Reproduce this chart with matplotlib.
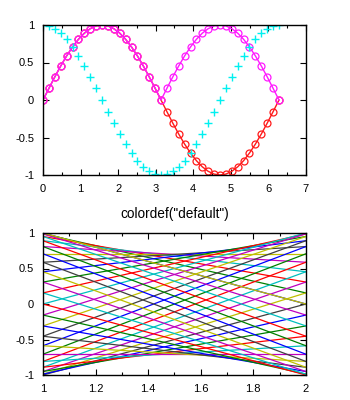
import matplotlib
matplotlib.use("Agg")
import matplotlib.pyplot as plt
from matplotlib.ticker import MultipleLocator

# 41 samples over one period
x_vals = [0.000, 0.157, 0.314, 0.471, 0.628, 0.785, 0.942, 1.100, 1.257, 1.414,
          1.571, 1.728, 1.885, 2.042, 2.199, 2.356, 2.513, 2.670, 2.827, 2.985,
          3.142, 3.299, 3.456, 3.613, 3.770, 3.927, 4.084, 4.241, 4.398, 4.555,
          4.712, 4.869, 5.027, 5.184, 5.341, 5.498, 5.655, 5.812, 5.969, 6.126,
          6.283]

sin_vals = [0.000, 0.156, 0.309, 0.454, 0.588, 0.707, 0.809, 0.891, 0.951, 0.988,
            1.000, 0.988, 0.951, 0.891, 0.809, 0.707, 0.588, 0.454, 0.309, 0.156,
            0.000, -0.156, -0.309, -0.454, -0.588, -0.707, -0.809, -0.891, -0.951, -0.988,
            -1.000, -0.988, -0.951, -0.891, -0.809, -0.707, -0.588, -0.454, -0.309, -0.156,
            0.000]

abs_sin_vals = [0.000, 0.156, 0.309, 0.454, 0.588, 0.707, 0.809, 0.891, 0.951, 0.988,
                1.000, 0.988, 0.951, 0.891, 0.809, 0.707, 0.588, 0.454, 0.309, 0.156,
                0.000, 0.156, 0.309, 0.454, 0.588, 0.707, 0.809, 0.891, 0.951, 0.988,
                1.000, 0.988, 0.951, 0.891, 0.809, 0.707, 0.588, 0.454, 0.309, 0.156,
                0.000]

cos_vals = [1.000, 0.988, 0.951, 0.891, 0.809, 0.707, 0.588, 0.454, 0.309, 0.156,
            0.000, -0.156, -0.309, -0.454, -0.588, -0.707, -0.809, -0.891, -0.951, -0.988,
            -1.000, -0.988, -0.951, -0.891, -0.809, -0.707, -0.588, -0.454, -0.309, -0.156,
            0.000, 0.156, 0.309, 0.454, 0.588, 0.707, 0.809, 0.891, 0.951, 0.988,
            1.000]

# each bottom line runs from (1, cos) to (2, sin)
line_x = [1, 2]

old_order = [(0, 0, 1), (0, 0.5, 0), (1, 0, 0), (0, 0.75, 0.75),
             (0.75, 0, 0.75), (0.75, 0.75, 0), (0.25, 0.25, 0.25)]

plt.rcParams['font.family'] = ['Liberation Sans', 'DejaVu Sans']
plt.rcParams['font.size'] = 8
plt.rcParams['axes.prop_cycle'] = plt.cycler(color=old_order)

fig = plt.figure(figsize=(3.5, 4), dpi=100)

ax1 = fig.add_axes([0.123, 0.5625, 0.751, 0.375])
ax1.plot(x_vals, sin_vals, 'o-', color='#ff1a1a', mfc='none', ms=5, lw=1, mew=0.9)
ax1.plot(x_vals, abs_sin_vals, 'o-', color='#ff1aff', mfc='none', ms=5, lw=1, mew=0.9)
ax1.plot(x_vals, cos_vals, '+', color='#00f0f0', ms=6, mew=1)
ax1.set_xlim(0, 7)
ax1.set_ylim(-1, 1)
ax1.xaxis.set_major_locator(MultipleLocator(1))
ax1.xaxis.set_minor_locator(MultipleLocator(0.5))
ax1.set_yticks([-1, -0.5, 0, 0.5, 1])
ax1.set_yticklabels(['-1', '-0.5', '0', '0.5', '1'])

ax2 = fig.add_axes([0.123, 0.0625, 0.751, 0.355])
for a, b in zip(cos_vals, sin_vals):
    ax2.plot(line_x, [a, b], lw=0.9)
ax2.set_xlim(1, 2)
ax2.set_ylim(-1, 1)
ax2.set_xticks([1, 1.2, 1.4, 1.6, 1.8, 2])
ax2.set_xticklabels(['1', '1.2', '1.4', '1.6', '1.8', '2'])
ax2.xaxis.set_minor_locator(MultipleLocator(0.1))
ax2.set_yticks([-1, -0.5, 0, 0.5, 1])
ax2.set_yticklabels(['-1', '-0.5', '0', '0.5', '1'])
fig.text(0.4985, 0.465, 'colordef("default")', ha='center', va='center', fontsize=9.8)

for ax in (ax1, ax2):
    ax.tick_params(which='both', direction='in', top=True, right=True, pad=6.5)
    ax.tick_params(which='major', length=4, width=0.8)
    ax.tick_params(which='minor', length=2.5, width=0.8)
    for s in ax.spines.values():
        s.set_linewidth(1)

fig.savefig('out.png', dpi=100)
